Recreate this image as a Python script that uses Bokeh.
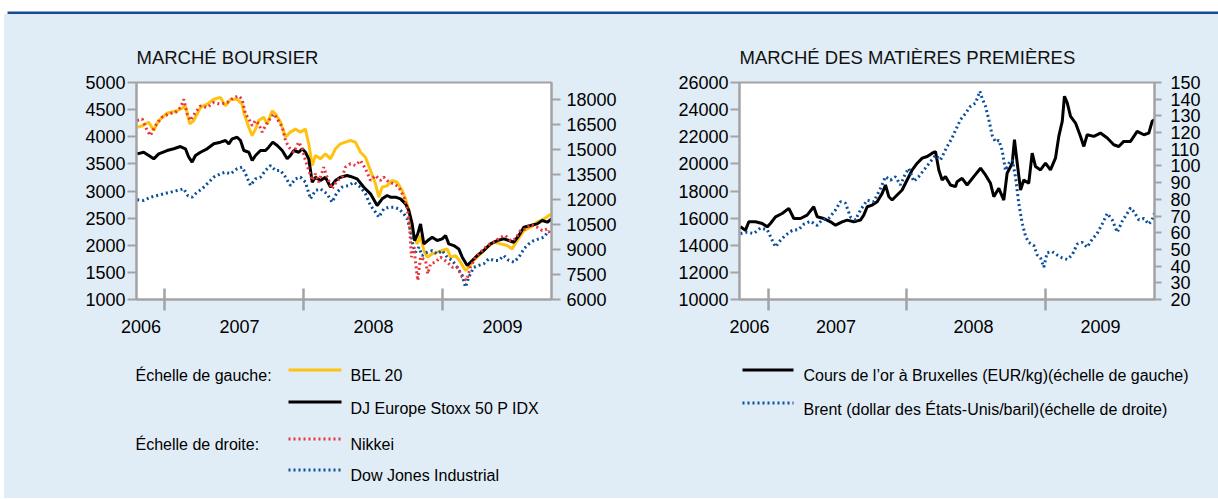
from bokeh.plotting import figure
from bokeh.models import (Range1d, LinearAxis, FixedTicker, CustomJSTickFormatter,
                          Label, BoxAnnotation, ColumnDataSource)
from bokeh.layouts import column, row
from bokeh.embed import file_html
from bokeh.resources import INLINE

# ---------------- data (x = decimal year) ----------------
BEL20 = [(2006.804, 4176), (2006.840, 4200), (2006.887, 4268), (2006.923, 4115), (2006.959, 4299),
         (2007.019, 4434), (2007.091, 4480), (2007.139, 4540), (2007.151, 4570), (2007.182, 4237),
         (2007.211, 4299), (2007.259, 4540), (2007.307, 4600), (2007.355, 4690), (2007.403, 4725),
         (2007.439, 4570), (2007.475, 4690), (2007.523, 4690), (2007.559, 4600), (2007.571, 4445),
         (2007.607, 4170), (2007.631, 4022), (2007.655, 4140), (2007.678, 4300), (2007.714, 4360),
         (2007.739, 4237), (2007.775, 4480), (2007.799, 4420), (2007.835, 4270), (2007.871, 3994),
         (2007.906, 4086), (2007.942, 4140), (2007.978, 4086), (2008.014, 4140), (2008.038, 3870),
         (2008.063, 3470), (2008.086, 3654), (2008.122, 3593), (2008.158, 3685), (2008.194, 3593),
         (2008.230, 3778), (2008.266, 3870), (2008.302, 3900), (2008.338, 3930), (2008.374, 3900),
         (2008.410, 3715), (2008.446, 3623), (2008.482, 3378), (2008.518, 3132), (2008.542, 2886),
         (2008.566, 3070), (2008.602, 3100), (2008.638, 3193), (2008.674, 3162), (2008.710, 3008),
         (2008.734, 2855), (2008.758, 2640), (2008.775, 2333), (2008.794, 2148), (2008.818, 2025),
         (2008.842, 2180), (2008.866, 1903), (2008.890, 1780), (2008.926, 1841), (2008.962, 1872),
         (2008.998, 1903), (2009.034, 1933), (2009.058, 1780), (2009.094, 1810), (2009.130, 1688),
         (2009.165, 1534), (2009.189, 1595), (2009.225, 1719), (2009.273, 1841), (2009.322, 1964),
         (2009.369, 2056), (2009.417, 2025), (2009.465, 1994), (2009.501, 1933), (2009.537, 2086),
         (2009.585, 2271), (2009.633, 2333), (2009.681, 2425), (2009.729, 2486), (2009.765, 2548),
         (2009.784, 2579)]

STOXX50 = [(2006.804, 3685), (2006.851, 3715), (2006.887, 3654), (2006.923, 3593), (2006.959, 3685),
           (2007.019, 3746), (2007.067, 3778), (2007.115, 3820), (2007.151, 3778), (2007.175, 3623),
           (2007.199, 3531), (2007.223, 3654), (2007.259, 3715), (2007.307, 3778), (2007.355, 3870),
           (2007.403, 3900), (2007.439, 3930), (2007.463, 3870), (2007.487, 3960), (2007.523, 3990),
           (2007.547, 3930), (2007.571, 3746), (2007.607, 3715), (2007.631, 3562), (2007.655, 3654),
           (2007.691, 3746), (2007.727, 3746), (2007.750, 3808), (2007.779, 3900), (2007.811, 3838),
           (2007.847, 3746), (2007.883, 3593), (2007.906, 3654), (2007.930, 3746), (2007.966, 3715),
           (2007.991, 3778), (2008.014, 3715), (2008.038, 3593), (2008.063, 3162), (2008.086, 3254),
           (2008.122, 3193), (2008.158, 3254), (2008.194, 3070), (2008.230, 3193), (2008.266, 3254),
           (2008.314, 3285), (2008.338, 3268), (2008.386, 3224), (2008.434, 3070), (2008.482, 2948),
           (2008.530, 2733), (2008.566, 2855), (2008.602, 2917), (2008.626, 2886), (2008.662, 2886),
           (2008.698, 2855), (2008.734, 2763), (2008.758, 2640), (2008.782, 2394), (2008.799, 2087),
           (2008.822, 2210), (2008.842, 2394), (2008.866, 2025), (2008.894, 2087), (2008.926, 2148),
           (2008.962, 2087), (2008.998, 2117), (2009.022, 2180), (2009.045, 2025), (2009.081, 1994),
           (2009.117, 1933), (2009.142, 1780), (2009.178, 1626), (2009.214, 1719), (2009.250, 1810),
           (2009.297, 1903), (2009.345, 2025), (2009.394, 2087), (2009.441, 2117), (2009.477, 2087),
           (2009.513, 2056), (2009.549, 2180), (2009.585, 2333), (2009.633, 2363), (2009.681, 2394),
           (2009.717, 2456), (2009.753, 2425), (2009.784, 2486)]

NIKKEI = [(2006.804, 16720), (2006.840, 16820), (2006.876, 16120), (2006.899, 15820), (2006.935, 16420),
          (2006.983, 16920), (2007.031, 17120), (2007.079, 17210), (2007.115, 17500), (2007.139, 17990),
          (2007.163, 17120), (2007.187, 16720), (2007.223, 17210), (2007.259, 17600), (2007.307, 17500),
          (2007.355, 17800), (2007.403, 17700), (2007.451, 17800), (2007.499, 18090), (2007.535, 18190),
          (2007.559, 17990), (2007.583, 17120), (2007.607, 16820), (2007.631, 16420), (2007.655, 16720),
          (2007.678, 16520), (2007.703, 16030), (2007.727, 16420), (2007.750, 16720), (2007.786, 17120),
          (2007.811, 16820), (2007.847, 16320), (2007.871, 15520), (2007.894, 15130), (2007.930, 14820),
          (2007.966, 15430), (2007.991, 15030), (2008.014, 14330), (2008.038, 13730), (2008.063, 13130),
          (2008.086, 13530), (2008.110, 13030), (2008.146, 13930), (2008.170, 13330), (2008.206, 12630),
          (2008.242, 13130), (2008.278, 13330), (2008.302, 13930), (2008.338, 14130), (2008.374, 14030),
          (2008.410, 14330), (2008.446, 13830), (2008.482, 13130), (2008.518, 13430), (2008.554, 13130),
          (2008.578, 13330), (2008.614, 13030), (2008.650, 12930), (2008.686, 12730), (2008.722, 12130),
          (2008.746, 11530), (2008.763, 10330), (2008.777, 8540), (2008.794, 9130), (2008.813, 7740),
          (2008.822, 7140), (2008.842, 8540), (2008.878, 8340), (2008.894, 7540), (2008.914, 8140),
          (2008.950, 8240), (2008.986, 8540), (2009.034, 8240), (2009.070, 7930), (2009.106, 7930),
          (2009.142, 7340), (2009.173, 7140), (2009.201, 7930), (2009.237, 8540), (2009.273, 8830),
          (2009.322, 9230), (2009.369, 9430), (2009.417, 9730), (2009.453, 9830), (2009.489, 9530),
          (2009.525, 9630), (2009.561, 10130), (2009.597, 10230), (2009.633, 10490), (2009.681, 10330),
          (2009.717, 10130), (2009.753, 10230), (2009.777, 9930)]

DOWJONES = [(2006.804, 11970), (2006.851, 11930), (2006.899, 12130), (2006.947, 12230), (2006.995, 12330),
            (2007.043, 12430), (2007.091, 12530), (2007.139, 12630), (2007.168, 12230), (2007.199, 12130),
            (2007.235, 12430), (2007.271, 12630), (2007.307, 12930), (2007.355, 13330), (2007.403, 13530),
            (2007.439, 13630), (2007.475, 13530), (2007.523, 13830), (2007.559, 13930), (2007.583, 13530),
            (2007.619, 12830), (2007.655, 13230), (2007.691, 13330), (2007.727, 13730), (2007.763, 14030),
            (2007.799, 13730), (2007.835, 13730), (2007.871, 13330), (2007.906, 12830), (2007.942, 13230),
            (2007.978, 13330), (2008.014, 13030), (2008.050, 12030), (2008.086, 12530), (2008.122, 12630),
            (2008.170, 12330), (2008.206, 11830), (2008.242, 12430), (2008.278, 12730), (2008.326, 12830),
            (2008.362, 13030), (2008.410, 12730), (2008.446, 12330), (2008.482, 11630), (2008.518, 11230),
            (2008.542, 10930), (2008.578, 11430), (2008.614, 11530), (2008.650, 11530), (2008.686, 11430),
            (2008.722, 11130), (2008.746, 10830), (2008.770, 10130), (2008.787, 9230), (2008.806, 8830),
            (2008.830, 9130), (2008.854, 8630), (2008.890, 8830), (2008.926, 8930), (2008.962, 8730),
            (2008.998, 8930), (2009.034, 8530), (2009.070, 8340), (2009.106, 7930), (2009.142, 7440),
            (2009.165, 6740), (2009.189, 7340), (2009.225, 7930), (2009.261, 8040), (2009.297, 8140),
            (2009.333, 8440), (2009.369, 8340), (2009.405, 8340), (2009.441, 8630), (2009.477, 8340),
            (2009.513, 8240), (2009.549, 8530), (2009.585, 9030), (2009.621, 9330), (2009.657, 9530),
            (2009.693, 9630), (2009.729, 9730), (2009.765, 10130)]

GOLD = [(2006.798, 15356), (2006.834, 15111), (2006.858, 15727), (2006.906, 15727), (2006.955, 15603),
        (2006.991, 15356), (2007.014, 15603), (2007.051, 16096), (2007.099, 16343), (2007.147, 16718),
        (2007.183, 15973), (2007.231, 15973), (2007.279, 16220), (2007.327, 16837), (2007.352, 16096),
        (2007.399, 15973), (2007.448, 15727), (2007.484, 15480), (2007.532, 15727), (2007.568, 15850),
        (2007.616, 15727), (2007.664, 15850), (2007.688, 16220), (2007.713, 16837), (2007.749, 16962),
        (2007.785, 17209), (2007.821, 17826), (2007.845, 18444), (2007.869, 17579), (2007.893, 17332),
        (2007.929, 17703), (2007.965, 18073), (2008.001, 18814), (2008.038, 19555), (2008.074, 20049),
        (2008.110, 20420), (2008.146, 20544), (2008.182, 20790), (2008.206, 20914), (2008.230, 19555),
        (2008.254, 18814), (2008.278, 19061), (2008.314, 18444), (2008.350, 18320), (2008.362, 18690),
        (2008.398, 18937), (2008.434, 18444), (2008.482, 19061), (2008.531, 19679), (2008.567, 19185),
        (2008.603, 18567), (2008.627, 17579), (2008.663, 18197), (2008.699, 17332), (2008.723, 19308),
        (2008.760, 20049), (2008.776, 21778), (2008.796, 20049), (2008.820, 18073), (2008.843, 18814),
        (2008.879, 18567), (2008.904, 20790), (2008.928, 19802), (2008.964, 19555), (2009.000, 20049),
        (2009.036, 19555), (2009.072, 20420), (2009.096, 22025), (2009.121, 23136), (2009.137, 24988),
        (2009.157, 24494), (2009.181, 23506), (2009.217, 23012), (2009.253, 22025), (2009.277, 21284),
        (2009.301, 22148), (2009.349, 22025), (2009.397, 22272), (2009.446, 21902), (2009.493, 21408),
        (2009.529, 21284), (2009.565, 21655), (2009.614, 21655), (2009.662, 22395), (2009.710, 22148),
        (2009.746, 22272), (2009.770, 23136), (2009.787, 23259)]

BRENT = [(2006.798, 59.5), (2006.846, 60.3), (2006.894, 59.5), (2006.942, 62.8), (2006.991, 61.9),
         (2007.027, 55.5), (2007.051, 51.5), (2007.087, 55.5), (2007.123, 58.5), (2007.171, 61.3),
         (2007.219, 61.9), (2007.255, 65.1), (2007.303, 66.9), (2007.352, 64.4), (2007.388, 67.7),
         (2007.435, 68.5), (2007.484, 73.6), (2007.520, 78.6), (2007.556, 77.7), (2007.592, 69.4),
         (2007.628, 67.7), (2007.664, 73.6), (2007.713, 79.5), (2007.760, 78.6), (2007.809, 86.6),
         (2007.845, 93.6), (2007.881, 91.5), (2007.917, 93.6), (2007.953, 88.6), (2007.989, 95.4),
         (2008.013, 98.6), (2008.049, 90.7), (2008.085, 93.6), (2008.121, 97.4), (2008.170, 102.6),
         (2008.206, 106.4), (2008.242, 103.6), (2008.290, 111.7), (2008.324, 116.4), (2008.350, 121.3),
         (2008.386, 127.7), (2008.422, 131.4), (2008.458, 135.7), (2008.495, 137.7), (2008.526, 144.8),
         (2008.543, 140.4), (2008.567, 135.7), (2008.591, 127.7), (2008.615, 118.4), (2008.639, 114.4),
         (2008.663, 115.4), (2008.687, 109.5), (2008.711, 97.4), (2008.735, 101.5), (2008.760, 103.6),
         (2008.783, 93.6), (2008.807, 77.7), (2008.832, 65.6), (2008.856, 57.9), (2008.879, 54.2),
         (2008.916, 52.3), (2008.940, 46.7), (2008.964, 44.9), (2008.988, 39.4), (2009.012, 48.0),
         (2009.048, 48.7), (2009.084, 46.7), (2009.121, 44.9), (2009.157, 44.0), (2009.193, 46.7),
         (2009.229, 53.2), (2009.265, 54.2), (2009.301, 51.3), (2009.337, 56.1), (2009.373, 59.5),
         (2009.409, 65.1), (2009.446, 71.6), (2009.482, 67.7), (2009.518, 60.3), (2009.554, 66.9),
         (2009.590, 71.6), (2009.614, 74.9), (2009.638, 72.6), (2009.674, 67.7), (2009.710, 68.5),
         (2009.746, 65.1), (2009.770, 67.7), (2009.787, 71.6)]

YEAR_LABELS = ["2006", "2007", "2008", "2009"]
YEAR_BOUNDARIES = [2007, 2008, 2009]
LEFT_TICKS_STOCK = [1000, 1500, 2000, 2500, 3000, 3500, 4000, 4500, 5000]
RIGHT_TICKS_STOCK = [6000, 7500, 9000, 10500, 12000, 13500, 15000, 16500, 18000]
LEFT_TICKS_COMMO = [10000, 12000, 14000, 16000, 18000, 20000, 22000, 24000, 26000]
RIGHT_TICKS_COMMO = [20, 30, 40, 50, 60, 70, 80, 90, 100, 110, 120, 130, 140, 150]

# ---------------- style ----------------
FONT = "Liberation Sans"
PANEL = "#E1EDF6"
GRAY = "#A3A3A3"
YELLOW = "#FFC20E"
RED = "#E8353B"
BLUE = "#0B4E9A"
BLACK = "#000000"
HEADER_BLUE = "#164C92"


def src(pairs):
    return ColumnDataSource(dict(x=[p[0] for p in pairs], y=[p[1] for p in pairs]))


def style_y(ax, standoff, tick_out=9):
    ax.axis_line_color = GRAY
    ax.axis_line_width = 2
    ax.major_tick_line_color = GRAY
    ax.major_tick_line_width = 2
    ax.major_tick_in = 0
    ax.major_tick_out = tick_out
    ax.minor_tick_line_color = None
    ax.major_label_text_font = FONT
    ax.major_label_text_font_size = "18px"
    ax.major_label_text_color = "#000000"
    ax.major_label_standoff = standoff


def make_chart(title, width, bl, br, xr, yr, yr2, lticks, rticks, label_pos,
               lstand, rstand, rtick_out):
    p = figure(width=width, height=340, x_range=Range1d(*xr), y_range=Range1d(*yr),
               output_backend="svg", toolbar_location=None,
               min_border_left=bl, min_border_right=br, min_border_top=68, min_border_bottom=55,
               title=title, background_fill_color="white", border_fill_color=PANEL,
               outline_line_color=GRAY, outline_line_width=2)
    p.title.text_font = FONT
    p.title.text_font_size = "18.5px"
    p.title.text_font_style = "normal"
    p.title.text_color = "#111111"
    p.title.align = "left"
    p.title.offset = 0
    p.title.standoff = 29
    p.xgrid.visible = False
    p.ygrid.visible = False

    p.extra_y_ranges = {"right": Range1d(*yr2)}
    p.yaxis.ticker = FixedTicker(ticks=lticks)
    style_y(p.yaxis[0], lstand)
    ax2 = LinearAxis(y_range_name="right", ticker=FixedTicker(ticks=rticks))
    style_y(ax2, rstand, rtick_out)
    p.add_layout(ax2, "right")

    xa = p.xaxis[0]
    xa.ticker = FixedTicker(ticks=label_pos, minor_ticks=YEAR_BOUNDARIES)
    xa.formatter = CustomJSTickFormatter(code="return String(Math.floor(tick + 1e-6));")
    xa.axis_line_color = GRAY
    xa.axis_line_width = 2
    xa.major_tick_line_color = None
    xa.major_tick_in = 0
    xa.major_tick_out = 0
    xa.minor_tick_line_color = GRAY
    xa.minor_tick_line_width = 2.5
    xa.minor_tick_in = 11
    xa.minor_tick_out = 11
    xa.major_label_text_font = FONT
    xa.major_label_text_font_size = "18px"
    xa.major_label_text_color = "#000000"
    xa.major_label_standoff = 9
    return p


def blank(w, h, color):
    f = figure(width=w, height=h, x_range=Range1d(0, w), y_range=Range1d(0, h),
               output_backend="svg", toolbar_location=None, min_border=0,
               x_axis_location=None, y_axis_location=None,
               background_fill_color=color, border_fill_color=color, outline_line_color=None)
    f.grid.visible = False
    return f


# ---------------- header (white strip with blue rule) ----------------
header = blank(1218, 14, "white")
header.add_layout(BoxAnnotation(left=7, right=1218, bottom=0, top=3,
                                fill_color=HEADER_BLUE, fill_alpha=1, line_color=None))
strip = blank(4, 484, "white")

# ---------------- left chart ----------------
left = make_chart("MARCHÉ BOURSIER", 636, 132, 89, (2006.799, 2009.784), (1000, 5000),
                  (6000, 19000), LEFT_TICKS_STOCK, RIGHT_TICKS_STOCK,
                  [2006.831, 2007.540, 2008.504, 2009.432], 2, 6, 9)
left.line("x", "y", source=src(BEL20), line_color=YELLOW, line_width=3)
left.line("x", "y", source=src(STOXX50), line_color=BLACK, line_width=3)
left.line("x", "y", source=src(DOWJONES), y_range_name="right", line_color=BLUE,
          line_width=3, line_dash="2 3")
left.line("x", "y", source=src(NIKKEI), y_range_name="right", line_color=RED,
          line_width=3, line_dash="2 3")

# ---------------- right chart ----------------
right = make_chart("MARCHÉ DES MATIÈRES PREMIÈRES", 578, 99, 64, (2006.791, 2009.787),
                   (10000, 26000), (20, 150), LEFT_TICKS_COMMO, RIGHT_TICKS_COMMO,
                   [2006.863, 2007.487, 2008.480, 2009.397], 2, 9, 7)
right.line("x", "y", source=src(GOLD), line_color=BLACK, line_width=3)
right.line("x", "y", source=src(BRENT), y_range_name="right", line_color=BLUE,
           line_width=3, line_dash="2 3")


# ---------------- legends ----------------
def legend_fig(x0, x1):
    f = figure(width=x1 - x0, height=144, x_range=Range1d(x0, x1), y_range=Range1d(498, 354),
               output_backend="svg", toolbar_location=None, min_border=0,
               x_axis_location=None, y_axis_location=None,
               background_fill_color=PANEL, border_fill_color=PANEL, outline_line_color=None)
    f.grid.visible = False
    return f


def add_text(f, x, y, t):
    f.add_layout(Label(x=x, y=y, text=t, text_font=FONT, text_font_size="16px",
                       text_color="#000000", text_baseline="alphabetic", text_align="left"))


legL = legend_fig(4, 640)
add_text(legL, 135, 375, "Échelle de gauche:")
add_text(legL, 135, 444, "Échelle de droite:")
legL.line([288, 341], [369.5, 369.5], line_color=YELLOW, line_width=3)
add_text(legL, 350, 375, "BEL 20")
legL.line([288, 341], [401.5, 401.5], line_color=BLACK, line_width=3)
add_text(legL, 350, 408, "DJ Europe Stoxx 50 P IDX")
legL.line([288, 341], [438.5, 438.5], line_color=RED, line_width=3, line_dash="2 3")
add_text(legL, 350, 444, "Nikkei")
legL.line([288, 341], [469.5, 469.5], line_color=BLUE, line_width=3, line_dash="2 3")
add_text(legL, 350, 475, "Dow Jones Industrial")

legR = legend_fig(640, 1218)
legR.line([742, 793], [369.5, 369.5], line_color=BLACK, line_width=3)
add_text(legR, 803, 375, "Cours de l’or à Bruxelles (EUR/kg)(échelle de gauche)")
legR.line([742, 793], [402.5, 402.5], line_color=BLUE, line_width=3, line_dash="2 3")
add_text(legR, 803, 409, "Brent (dollar des États-Unis/baril)(échelle de droite)")

panel = column(row(left, right, styles={"background-color": PANEL}),
               row(legL, legR, styles={"background-color": PANEL}),
               styles={"background-color": PANEL})
layout = column(header, row(strip, panel))
open("out.html", "w").write(file_html(layout, INLINE))
